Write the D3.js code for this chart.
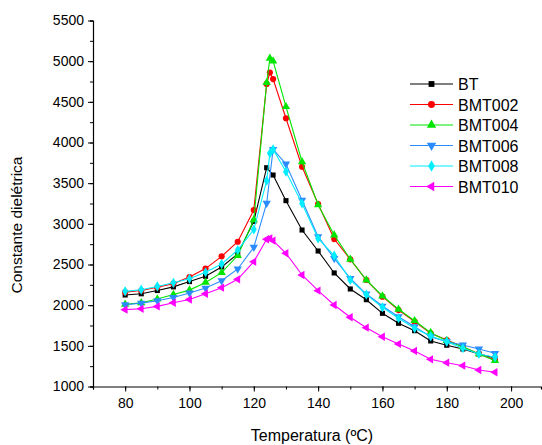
<!DOCTYPE html>
<html>
<head>
<meta charset="utf-8">
<script src="https://cdn.jsdelivr.net/npm/d3@7"></script>
<style>
  body { margin: 0; background: #fff; }
  svg { font-family: Arial, "Liberation Sans", sans-serif; }
</style>
</head>
<body>
<svg id="chart" width="542" height="445"></svg>
<script>
// temperature points (ºC); null = no point in that series
var temps = [80, 85, 90, 95, 100, 105, 110, 115, 120, 124, 125, 126, 130, 135, 140, 145, 150, 155, 160, 165, 170, 175, 180, 185, 190, 195];

var bt     = [2125, 2140, 2180, 2225, 2290, 2355, 2470, 2630, 3030, 3690, null, 3600, 3285, 2924, 2666, 2396, 2199, 2067, 1900, 1777, 1686, 1560, 1507, 1461, 1400, 1350];
var bmt002 = [2160, 2180, 2220, 2265, 2345, 2450, 2600, 2780, 3170, 4720, 4860, 4780, 4298, 3702, 3244, 2813, 2564, 2309, 2104, 1940, 1797, 1654, 1572, 1489, 1400, 1326];
var bmt004 = [2010, 2030, 2075, 2130, 2185, 2280, 2400, 2610, 3050, 4735, 5035, 5002, 4440, 3763, 3232, 2863, 2564, 2309, 2113, 1950, 1809, 1662, 1564, 1489, 1400, 1317];
var bmt006 = [2005, 2025, 2055, 2095, 2150, 2210, 2300, 2445, 2712, 3253, null, 3916, 3736, 3290, 2842, 2575, 2329, 2137, 1989, 1858, 1735, 1612, 1551, 1510, 1461, 1408];
var bmt008 = [2170, 2190, 2230, 2275, 2325, 2405, 2506, 2678, 2930, 3530, 3867, 3916, 3641, 3250, 2820, 2610, 2310, 2130, 1974, 1839, 1716, 1620, 1551, 1470, 1400, 1360];
var bmt010 = [1945, 1955, 1985, 2030, 2070, 2140, 2215, 2318, 2534, 2810, 2822, 2793, 2638, 2371, 2178, 2002, 1851, 1723, 1612, 1523, 1437, 1334, 1293, 1256, 1203, 1175];

var names = ["BT", "BMT002", "BMT004", "BMT006", "BMT008", "BMT010"];
var values = [bt, bmt002, bmt004, bmt006, bmt008, bmt010];
var colors = ["#000000", "#ff0000", "#00e600", "#2a8cff", "#00eeff", "#ff00ff"];

var xTicks = [80, 100, 120, 140, 160, 180, 200];
var yTicks = [1000, 1500, 2000, 2500, 3000, 3500, 4000, 4500, 5000, 5500];

var svg = d3.select("#chart");

var x = d3.scaleLinear().domain([70, 209.3]).range([93, 541]);
var y = d3.scaleLinear().domain([1000, 5500]).range([386.5, 20.5]);

// marker shapes, rotation per series
var symbols = [
  {type: d3.symbolSquare, size: 26, rot: 0},
  {type: d3.symbolCircle, size: 30, rot: 0},
  {type: d3.symbolTriangle, size: 30, rot: 0},
  {type: d3.symbolTriangle, size: 30, rot: 180},
  {type: d3.symbolDiamond, size: 30, rot: 0},
  {type: d3.symbolTriangle, size: 30, rot: -90}
];

// axes: minor ticks first, then major ticks with labels
var xAxis = svg.append("g").attr("transform", "translate(0,386.5)");
xAxis.call(d3.axisBottom(x).tickValues(d3.range(70, 210, 10)).tickSize(3).tickFormat(""));
var xMaj = svg.append("g").attr("transform", "translate(0,386.5)");
xMaj.call(d3.axisBottom(x).tickValues(xTicks).tickSize(5).tickPadding(7).tickFormat(d3.format("d")));
xMaj.select(".domain").remove();
xMaj.selectAll("text").attr("font-size", "14px").attr("fill", "#000").attr("font-family", "Arial, 'Liberation Sans', sans-serif");

var yAxis = svg.append("g").attr("transform", "translate(93,0)");
yAxis.call(d3.axisLeft(y).tickValues(d3.range(1000, 5501, 250)).tickSize(3).tickFormat(""));
var yMaj = svg.append("g").attr("transform", "translate(93,0)");
yMaj.call(d3.axisLeft(y).tickValues(yTicks).tickSize(5).tickPadding(4).tickFormat(d3.format("d")));
yMaj.select(".domain").remove();
yMaj.selectAll("text").attr("font-size", "14px").attr("fill", "#000").attr("font-family", "Arial, 'Liberation Sans', sans-serif");

svg.selectAll(".domain").attr("stroke", "#000").attr("stroke-width", 1.2);

// axis titles
svg.append("text")
  .attr("x", 312).attr("y", 441)
  .attr("text-anchor", "middle")
  .attr("font-size", "16px")
  .text("Temperatura (ºC)");
svg.append("text")
  .attr("transform", "translate(22,225) rotate(-90)")
  .attr("text-anchor", "middle")
  .attr("font-size", "15.5px")
  .text("Constante dielétrica");

// series
var line = d3.line()
  .x(function(d) { return x(d[0]); })
  .y(function(d) { return y(d[1]); });

values.forEach(function(vals, i) {
  var pts = temps.map(function(t, j) { return [t, vals[j]]; })
    .filter(function(d) { return d[1] != null; });
  var g = svg.append("g");
  g.append("path")
    .datum(pts)
    .attr("d", line)
    .attr("fill", "none")
    .attr("stroke", colors[i])
    .attr("stroke-width", 1.1);
  g.selectAll("path.m")
    .data(pts)
    .enter().append("path")
    .attr("class", "m")
    .attr("d", d3.symbol().type(symbols[i].type).size(symbols[i].size))
    .attr("transform", function(d) {
      return "translate(" + x(d[0]) + "," + y(d[1]) + ") rotate(" + symbols[i].rot + ")";
    })
    .attr("fill", colors[i]);
});

// legend
var legend = svg.append("g");
names.forEach(function(n, i) {
  var ly = 84 + i * 20.5;
  legend.append("line")
    .attr("x1", 410).attr("x2", 453)
    .attr("y1", ly).attr("y2", ly)
    .attr("stroke", colors[i]).attr("stroke-width", 1.1);
  legend.append("path")
    .attr("d", d3.symbol().type(symbols[i].type).size(symbols[i].size + 8))
    .attr("transform", "translate(431.5," + ly + ") rotate(" + symbols[i].rot + ")")
    .attr("fill", colors[i]);
  legend.append("text")
    .attr("x", 458).attr("y", ly + 6)
    .attr("font-size", "16px")
    .text(n);
});
</script>
</body>
</html>
